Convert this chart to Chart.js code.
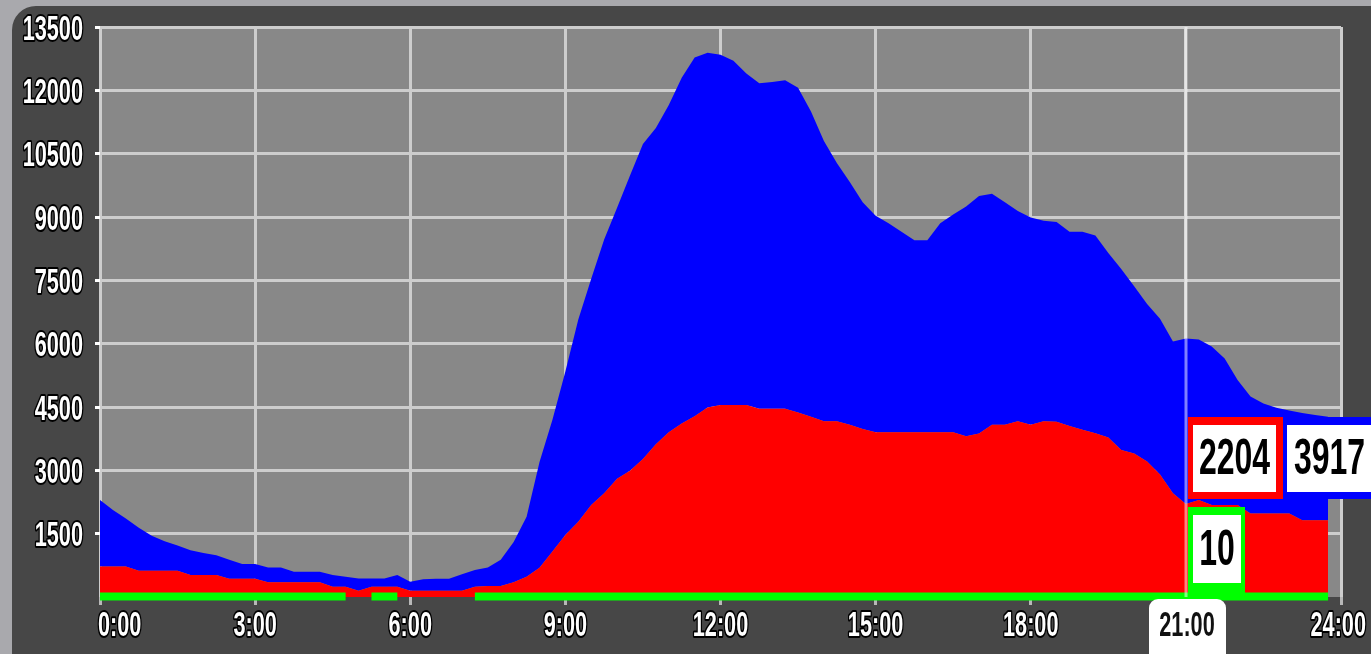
<!DOCTYPE html>
<html>
<head>
<meta charset="utf-8">
<script src="https://cdn.jsdelivr.net/npm/chart.js@4.4.1/dist/chart.umd.min.js"></script>
<style>
  html, body { margin: 0; padding: 0; background: #a9a9ad; }
  #wrap { width: 1371px; height: 654px; }
</style>
</head>
<body>
<div id="wrap"><canvas id="trafficChart" width="1371" height="654"></canvas></div>
<script>
// samples every 15 minutes, 0:00 .. 23:45
const stepHours = 0.25;

// red series (bottom of the stack), one row per hour
const redValues = [
  720, 720, 720, 620,
  620, 620, 620, 520,
  520, 520, 430, 430,
  430, 350, 350, 350,
  350, 350, 245, 245,
  150, 245, 245, 245,
  150, 150, 150, 150,
  150, 245, 260, 260,
  350, 480, 690, 1080,
  1470, 1780, 2180, 2460,
  2800, 2990, 3270, 3620,
  3900, 4110, 4280, 4490,
  4550, 4550, 4550, 4460,
  4460, 4460, 4370, 4270,
  4160, 4160, 4080, 3980,
  3900, 3900, 3900, 3900,
  3900, 3900, 3900, 3810,
  3870, 4080, 4080, 4160,
  4080, 4160, 4150, 4050,
  3960, 3880, 3780, 3480,
  3400, 3210, 2900, 2460,
  2204, 2300, 2180, 2180,
  2180, 1980, 1980, 1980,
  1980, 1820, 1820, 1820
];

// blue series (stacked on red)
const blueValues = [
  1580, 1340, 1140, 1020,
  830, 700, 600, 590,
  520, 470, 450, 350,
  350, 350, 350, 250,
  250, 250, 275, 235,
  290, 195, 195, 275,
  210, 270, 280, 280,
  390, 395, 440, 620,
  950, 1420, 2510, 3120,
  3870, 4790, 5360, 6010,
  6420, 6990, 7460, 7490,
  7750, 8190, 8500, 8400,
  8290, 8150, 7850, 7710,
  7740, 7780, 7690, 7230,
  6640, 6120, 5750, 5370,
  5130, 4950, 4750, 4550,
  4550, 4950, 5160, 5440,
  5630, 5470, 5270, 4980,
  4910, 4750, 4730, 4600,
  4690, 4680, 4370, 4290,
  3960, 3730, 3690, 3590,
  3917, 3800, 3750, 3470,
  2960, 2770, 2600, 2500,
  2440, 2540, 2490, 2450
];

// green series (null = no data)
const greenValues = [
  10, 10, 10, 10,  10, 10, 10, 10,  10, 10, 10, 10,  10, 10, 10, 10,
  10, 10, 10, 10,  null, 10, 10, 10,  null, null, null, null,  null, 10, 10, 10,
  10, 10, 10, 10,  10, 10, 10, 10,  10, 10, 10, 10,  10, 10, 10, 10,
  10, 10, 10, 10,  10, 10, 10, 10,  10, 10, 10, 10,  10, 10, 10, 10,
  10, 10, 10, 10,  10, 10, 10, 10,  10, 10, 10, 10,  10, 10, 10, 10,
  10, 10, 10, 10,  10, 10, 10, 10,  10, 10, 10, 10,  10, 10, 10, 10
];

const cursorHour = 21;
const yTicks = [1500, 3000, 4500, 6000, 7500, 9000, 10500, 12000, 13500];

const hours = redValues.map((_, i) => i * stepHours);
const toPoints = arr => arr.map((v, i) => ({ x: hours[i], y: v }));
const cursorIndex = hours.indexOf(cursorHour);

// narrow look of the original labels: bold face squeezed horizontally
function narrowText(ctx, text, x, y, align, size, fill, stroke) {
  const sx = 0.62;
  ctx.save();
  ctx.translate(x, y);
  ctx.scale(sx, 1);
  ctx.font = 'bold ' + size + "px 'Liberation Sans', sans-serif";
  ctx.textAlign = align;
  ctx.textBaseline = 'middle';
  if (stroke) {
    ctx.lineWidth = 4;
    ctx.lineJoin = 'round';
    ctx.strokeStyle = stroke;
    ctx.strokeText(text, 0, 0);
  }
  ctx.fillStyle = fill;
  ctx.fillText(text, 0, 0);
  ctx.restore();
}

// panel, plot background
const backdrop = {
  id: 'backdrop',
  beforeDraw(chart) {
    const { ctx, chartArea: a } = chart;
    ctx.save();
    ctx.fillStyle = '#a9a9ad';
    ctx.fillRect(0, 0, chart.width, chart.height);
    ctx.fillStyle = '#474747';
    ctx.beginPath();
    ctx.roundRect(12, 6, chart.width + 40, chart.height + 40, [24, 0, 0, 0]);
    ctx.fill();
    ctx.fillStyle = '#888888';
    ctx.fillRect(a.left, a.top, a.right - a.left, a.bottom - a.top);
    ctx.restore();
  }
};

// tick labels, placed from the scales' own ticks
const axisLabels = {
  id: 'axisLabels',
  afterDraw(chart) {
    const { ctx, chartArea: a } = chart;
    const xs = chart.scales.x, ys = chart.scales.y;
    ys.ticks.forEach(t => {
      narrowText(ctx, String(t.value), a.left - 17, ys.getPixelForValue(t.value) + 3, 'right', 35, '#ffffff', '#000000');
    });
    xs.ticks.forEach((t, i) => {
      if (t.value === cursorHour) return;
      const label = t.value + ':00';
      let x = xs.getPixelForValue(t.value);
      let align = 'center';
      if (i === 0) { align = 'left'; x -= 2; }
      if (i === xs.ticks.length - 1) { align = 'right'; x = chart.width - 5; }
      narrowText(ctx, label, x, a.bottom + 29, align, 35, '#ffffff', '#000000');
    });
  }
};

function drawBox(ctx, x, y, w, h, border, bw, text) {
  ctx.fillStyle = border;
  ctx.fillRect(x, y, w, h);
  ctx.fillStyle = '#ffffff';
  ctx.fillRect(x + bw[3], y + bw[0], w - bw[1] - bw[3], h - bw[0] - bw[2]);
  const cx = x + bw[3] + (w - bw[1] - bw[3]) / 2;
  const cy = y + bw[0] + (h - bw[0] - bw[2]) / 2;
  ctx.save();
  ctx.translate(cx, cy + 2);
  ctx.scale(0.64, 1);
  ctx.fillStyle = '#000000';
  ctx.font = "bold 50px 'Liberation Sans', sans-serif";
  ctx.textAlign = 'center';
  ctx.textBaseline = 'middle';
  ctx.fillText(text, 0, 0);
  ctx.restore();
}

// cursor line + value boxes at cursorHour
const cursor = {
  id: 'cursor',
  afterDraw(chart) {
    const { ctx, chartArea: a } = chart;
    const xs = chart.scales.x;
    const px = Math.round(xs.getPixelForValue(cursorHour));
    ctx.save();
    ctx.strokeStyle = 'rgba(255,255,255,0.5)';
    ctx.lineWidth = 3;
    ctx.beginPath();
    ctx.moveTo(px, a.top);
    ctx.lineTo(px, a.bottom);
    ctx.stroke();

    drawBox(ctx, px + 2, a.bottom - 180, 95, 82, '#ff0000', [8, 7, 7, 5], String(redValues[cursorIndex]));
    drawBox(ctx, px + 98, a.bottom - 180, 92, 82, '#0000ff', [8, 4, 7, 3], String(blueValues[cursorIndex]));
    drawBox(ctx, px + 2, a.bottom - 90, 57, 91, '#00ff00', [8, 4, 15, 5], String(greenValues[cursorIndex]));

    // highlighted time label
    ctx.fillStyle = '#ffffff';
    ctx.beginPath();
    ctx.roundRect(px - 37, a.bottom + 2, 77, 70, 9);
    ctx.fill();
    ctx.restore();
    narrowText(ctx, cursorHour + ':00', px + 1, a.bottom + 29, 'center', 35, '#111111', null);
  }
};

new Chart(document.getElementById('trafficChart'), {
  type: 'line',
  data: {
    datasets: [
      {
        label: 'red',
        data: toPoints(redValues),
        stack: 'main',
        fill: 'origin',
        backgroundColor: '#ff0000',
        borderColor: '#ff0000',
        borderWidth: 0,
        pointRadius: 0,
        tension: 0
      },
      {
        label: 'blue',
        data: toPoints(blueValues),
        stack: 'main',
        fill: '-1',
        backgroundColor: '#0000ff',
        borderColor: '#0000ff',
        borderWidth: 0,
        pointRadius: 0,
        tension: 0
      },
      {
        label: 'green',
        data: toPoints(greenValues),
        stack: 'green',
        order: -1,
        clip: false,
        fill: false,
        borderColor: '#00ff00',
        borderWidth: 8,
        borderCapStyle: 'butt',
        pointRadius: 0,
        spanGaps: false,
        tension: 0
      }
    ]
  },
  options: {
    responsive: false,
    animation: false,
    events: [],
    layout: { autoPadding: false, padding: { top: 27, right: 30, left: 0, bottom: 0 } },
    plugins: {
      legend: { display: false },
      tooltip: { enabled: false }
    },
    scales: {
      x: {
        type: 'linear',
        min: 0,
        max: 24,
        afterFit: s => { s.height = 57; },
        border: { display: false },
        grid: { color: '#cdcdcd', lineWidth: 3, tickLength: 8, tickColor: '#b8b8b8', tickWidth: 3 },
        ticks: {
          stepSize: 3,
          autoSkip: false,
          maxRotation: 0,
          color: 'rgba(0,0,0,0)'
        }
      },
      y: {
        stacked: true,
        min: 0,
        max: 13500,
        afterFit: s => { s.width = 100; },
        afterBuildTicks: s => { s.ticks = yTicks.map(v => ({ value: v })); },
        border: { display: false },
        grid: { color: '#cdcdcd', lineWidth: 3, tickLength: 5, tickColor: '#ffffff', tickWidth: 3 },
        ticks: { color: 'rgba(0,0,0,0)' }
      }
    }
  },
  plugins: [backdrop, axisLabels, cursor]
});
</script>
</body>
</html>
